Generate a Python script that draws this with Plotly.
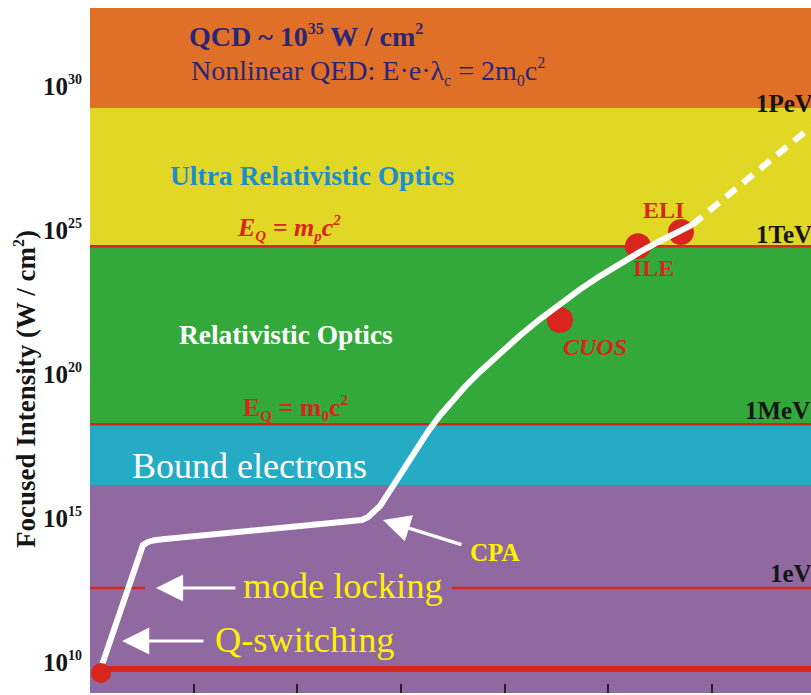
import plotly.graph_objects as go

# ---------------- data (x = year, y = log10 of focused intensity in W/cm^2) ----------------
curve_years = [1961.16, 1965.11, 1965.55, 1966.1, 1967.0, 1985.55, 1986.2, 1986.8, 1987.4,
               1987.97, 1988.93, 1989.89, 1991.34, 1992.60, 1993.76, 1994.91, 1996.16,
               1997.61, 1999.54, 2001.47, 2003.40, 2005.33, 2007.26, 2009.18, 2011.11,
               2013.04, 2014.97, 2016.90, 2018.06]
curve_logI = [9.90, 14.06, 14.16, 14.22, 14.26, 14.86, 14.93, 15.03, 15.20,
              15.42, 15.95, 16.49, 17.33, 18.01, 18.57, 19.07, 19.56,
              20.08, 20.72, 21.34, 21.91, 22.45, 22.94, 23.40, 23.83,
              24.24, 24.62, 24.97, 25.18]
future_years = [2018.06, 2029.53]
future_logI = [25.18, 28.58]

facility_names = ["CUOS", "ILE", "ELI"]
facility_years = [2005.32, 2012.85, 2016.99]
facility_logI = [21.875, 24.44, 24.93]
qswitch_year = [1961.06]
qswitch_logI = [9.62]

# regime boundaries (log10 intensity)
band_edges = [8.0, 16.15, 18.26, 24.44, 29.24, 34.0]
band_colors = ["#8f69a0", "#25abc3", "#34a93b", "#e1d826", "#e07027"]
redline_levels = [24.44, 18.26, 12.57]   # m_p c^2, m_0 c^2, 1 eV
laser_base_level = 9.76
energy_labels = ["1PeV", "1TeV", "1MeV", "1eV"]
energy_label_levels = [29.41, 24.83, 18.75, 13.09]
ytick_vals = [10, 15, 20, 25, 30]
ytick_text = [f"<b>10<sup><span style='font-size:14px'>{v}</span></sup></b>" for v in ytick_vals]

XMIN, XMAX = 1960, 2029.53
YMIN, YMAX = 8.924, 32.71
RED = "#d9251d"
SERIF = "Liberation Serif"


def sup(s, size=15):
    return f"<sup><span style='font-size:{size}px'>{s}</span></sup>"


def sub(s, size=15):
    return f"<sub><span style='font-size:{size}px'>{s}</span></sub>"


fig = go.Figure()

shapes = []
for i, col in enumerate(band_colors):
    shapes.append(dict(type="rect", xref="paper", yref="y", x0=0, x1=1,
                       y0=band_edges[i], y1=band_edges[i + 1],
                       fillcolor=col, line_width=0, layer="below"))
shapes.append(dict(type="line", xref="paper", yref="y", x0=0, x1=1,
                   y0=redline_levels[0], y1=redline_levels[0], line=dict(color=RED, width=2.5), layer="below"))
shapes.append(dict(type="line", xref="paper", yref="y", x0=0, x1=1,
                   y0=redline_levels[1], y1=redline_levels[1], line=dict(color=RED, width=2.5), layer="below"))
shapes.append(dict(type="line", xref="x", yref="y", x0=XMIN, x1=1965.3,
                   y0=redline_levels[2], y1=redline_levels[2], line=dict(color=RED, width=2.5), layer="below"))
shapes.append(dict(type="line", xref="x", yref="y", x0=1994.9, x1=XMAX + 1,
                   y0=redline_levels[2], y1=redline_levels[2], line=dict(color=RED, width=2.5), layer="below"))
shapes.append(dict(type="line", xref="x", yref="y", x0=qswitch_year[0], x1=XMAX + 1,
                   y0=laser_base_level, y1=laser_base_level, line=dict(color=RED, width=6), layer="below"))

fig.add_trace(go.Scatter(x=facility_years, y=facility_logI, mode="markers",
                         marker=dict(color=RED, size=26, line_width=0),
                         hoverinfo="skip", showlegend=False))
fig.add_trace(go.Scatter(x=curve_years, y=curve_logI, mode="lines",
                         line=dict(color="white", width=6, shape="linear"),
                         hoverinfo="skip", showlegend=False))
fig.add_trace(go.Scatter(x=future_years, y=future_logI, mode="lines",
                         line=dict(color="white", width=6, dash="13px,9px"),
                         hoverinfo="skip", showlegend=False))
fig.add_trace(go.Scatter(x=qswitch_year, y=qswitch_logI, mode="markers",
                         marker=dict(color=RED, size=20, line_width=0),
                         hoverinfo="skip", showlegend=False))

ann = []


def txt(x, y, text, size, color, xanchor="left", yanchor="middle"):
    ann.append(dict(x=x, y=y, xref="x", yref="y", text=text, showarrow=False,
                    xanchor=xanchor, yanchor=yanchor,
                    font=dict(family=SERIF, size=size, color=color)))


txt(1969.4, 31.74, f"<b>QCD ~ 10{sup('35', 16)} W / cm{sup('2', 16)}</b>", 28, "#2b2579")
txt(1969.5, 30.52, f"Nonlinear QED: E·e·λ{sub('c', 16)} = 2m{sub('0', 16)}c{sup('2', 16)}", 28, "#2b2579")
txt(1967.5, 26.91, "<b>Ultra Relativistic Optics</b>", 27.5, "#1b8dcf")
txt(1974.0, 25.07, f"<b><i>E{sub('Q')} = m{sub('p')}c{sup('2')}</i></b>", 26, RED)
txt(1968.35, 21.35, "<b>Relativistic Optics</b>", 27.4, "white")
txt(1974.6, 18.82, f"<b>E{sub('Q')} = m{sub('0')}c{sup('2')}</b>", 26, RED)
txt(1963.9, 16.81, "Bound electrons", 36, "white")
txt(1974.6, 12.67, "mode locking", 36.5, "#fff200")
txt(1971.9, 10.76, "Q-switching", 36.3, "#fff200")
txt(1996.5, 13.82, "<b>CPA</b>", 25, "#fff200")
txt(2005.45, 20.94, "<b><i>CUOS</i></b>", 24, RED)
txt(2012.2, 23.68, "<b>ILE</b>", 24, RED)
txt(2013.15, 25.69, "<b>ELI</b>", 24, RED)
for lab, lv in zip(energy_labels, energy_label_levels):
    xl = 2025.4 if lab == "1eV" else (2023.0 if lab == "1MeV" else 2024.0)
    txt(xl, lv, f"<b>{lab}</b>", 25, "#151515")

for head, tail in [((1963.09, 10.73), (1971.09, 10.73)),
                   ((1966.36, 12.57), (1974.18, 12.57)),
                   ((1988.25, 14.93), (1995.97, 14.06))]:
    ann.append(dict(x=head[0], y=head[1], ax=tail[0], ay=tail[1], xref="x", yref="y",
                    axref="x", ayref="y", text="", showarrow=True, arrowhead=2,
                    arrowsize=1.7, arrowwidth=3.2, arrowcolor="white"))

ann.append(dict(x=(26 - 90) / 721, y=(693 - 389) / 685, xref="paper", yref="paper",
                text=f"<b>Focused Intensity (W / cm{sup('2', 16)})</b>", textangle=-90,
                showarrow=False, xanchor="center", yanchor="middle",
                font=dict(family=SERIF, size=27, color="#151515")))

fig.update_layout(
    width=811, height=695,
    margin=dict(l=90, r=0, t=8, b=2),
    paper_bgcolor="white", plot_bgcolor="white",
    shapes=shapes, annotations=ann, showlegend=False,
    xaxis=dict(range=[XMIN, XMAX], tick0=1960, dtick=10, ticks="inside", ticklen=9,
               tickwidth=1.5, tickcolor="#222", showticklabels=False, showgrid=False,
               zeroline=False, showline=False, fixedrange=True),
    yaxis=dict(range=[YMIN, YMAX], tickvals=ytick_vals, ticktext=ytick_text, ticks="",
               ticklabelstandoff=7, showgrid=False, zeroline=False, showline=False,
               tickfont=dict(family=SERIF, size=25, color="#151515"), fixedrange=True),
)

fig.write_html("out.html", config={"displayModeBar": False},
               post_script="document.body.style.margin='0';document.body.style.overflow='hidden';")
